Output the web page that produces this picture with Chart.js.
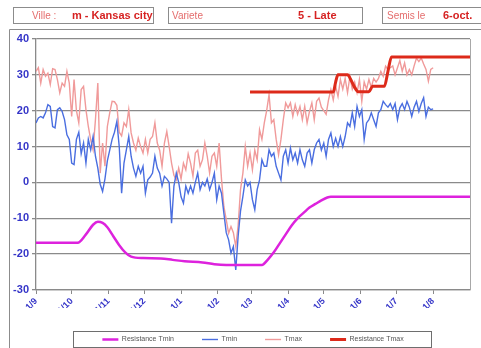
<!DOCTYPE html>
<html>
<head>
<meta charset="utf-8">
<script src="https://cdn.jsdelivr.net/npm/chart.js@4.4.1/dist/chart.umd.min.js"></script>
<style>
    html, body { margin: 0; padding: 0; background: #ffffff; }
    #graficoTemp { display: block; }
</style>
</head>
<body>
<canvas id="graficoTemp" width="481" height="348"></canvas>
<script>

const police = '"Liberation Sans", Arial, sans-serif';

// axe des dates : jour 0 = 1er septembre
const moisLabels = ['1/9', '1/10', '1/11', '1/12', '1/1', '1/2', '1/3', '1/4', '1/5', '1/6', '1/7', '1/8'];
const moisJours = [0, 30, 61, 91, 122, 153, 181, 212, 242, 273, 303, 334];
const finAxe = 365;

// releves tous les 2 jours depuis le 1/9
const pasJours = 2;

const tmin = [
    16.6, 18, 18.4, 18, 19.4, 21.7, 21.2, 15.6, 15.2, 20.3, 20.8, 19.8, 17.5, 13.3, 12, 5.4,
    5, 12, 14, 8, 11, 5.4, 12, 9.1, 12.8, 7.3, 4, -0.5, -2.5, 1, 6, 9,
    12, 14, 17, 10, -3, 5.4, 9.1, 12.8, 7.3, 4, 1.7, 4.5, 2.6, 4.5, -3, 0.7,
    1.5, 2.6, 7.3, 4, 2.6, -1, 1.7, 1, 0, -11.4, -1, 2.6, 0,
    -4, -5.8, -1, -3, -1, -3, 0, 2.6, -2, 0, -1, 1, -2, 0, 2.6, -4.8,
    -1, -3, -8.6, -14, -16, -19.7, -17.9, -24.4, -15, -8, -3.9, 0.7, -1, 0,
    -4.8, -7.6, -2, 0.7, 6.3, 4.5, 4.5, 9.1, 7.3, 8.2, 4.5, 2.6, 0.7, 7.3, 9.1, 5.4,
    9.6, 6.3, 8.2, 5.4, 9.1, 6.3, 4.5, 8.2, 9.1, 5.4, 9.1, 11, 12,
    9, 11, 7.3, 12, 13.8, 10, 12.3, 10, 12.8, 10, 12.8, 16.6, 15.6, 19.4, 15.6, 21.2,
    18.4, 20.3, 12, 16.6, 17.5, 19.4, 17.5, 15.6, 19.4, 20.3, 22.6, 21.7, 21,
    22, 20.3, 22, 17.5, 20.8, 22, 20.3, 22.6, 21, 18.4, 21, 22.6, 19.8, 22, 23.6, 18.4,
    21, 20.3, 20.5
];

const tmax = [
    31, 32, 27.7, 31.5, 29.6, 30.5, 27.3, 31.7, 31.5, 28.7, 25, 27.7, 26.8, 31, 27.7, 18.4,
    28.7, 20, 16.6, 25.9, 26.8, 20.3, 15.6, 11.9, 9.1, 17.5, 27.7, 2.6, 11, 4.5, 15.6, 19.4,
    22.6, 22.5, 21.5, 14, 13, 16.6, 15.6, 20.3, 13.8, 11, 9, 12.4, 10, 8.2, 12, 8.2,
    12, 12.8, 16.6, 11, 9, 4.5, 11, 14.2, 10, 5.4, 2, 0.7, 4,
    1, 5.4, 3.5, 8, 5.4, 1.7, 8.2, 9, 4.5, 6.3, 11, 7.3, 2.6, 7.3, 8.2, 4.5,
    11, 1, -6.7, -10.4, -14.2, -12.3, -14, -17.9, -12, -2, 2.6, 10, 4.5, 8.2,
    3.5, 9, 6.3, 14.7, 12, 16.6, 20, 24.5, 16.6, 17.5, 12, 7.7, 12, 17.5, 22.2, 20.8,
    22.2, 18.4, 21.7, 19, 21.2, 17.5, 21.2, 16.6, 19.8, 22.2, 17.5, 22.6, 23.5,
    21, 20, 19, 23, 25.9, 23, 26.8, 24, 28.7, 26, 29, 25, 29.6, 26, 28, 25,
    28.7, 22.6, 28, 26, 28.7, 26.5, 29, 28, 29, 31, 29.6, 32.4, 31.5,
    32, 32.5, 30, 32, 34, 31, 33.3, 30, 31.5, 30, 32.5, 34.7, 33.7, 34.7, 33, 31.5,
    28.2, 31.5, 32
];

// seuils de resistance
const resTminJours = [0, 35, 42, 48, 52, 56, 60, 65, 70, 75, 80, 90, 105, 115, 125, 140, 150, 160,
    190, 195, 200, 205, 210, 215, 220, 225, 230, 235, 240, 245, 248, 365];
const resTminValeurs = [-16.8, -16.8, -14.5, -11.8, -11, -11.3, -12.5, -15, -17.5, -19.5, -20.7, -21.1, -21.2, -21.6, -22, -22.3, -22.8, -23,
    -23, -21.5, -19.5, -17, -14.5, -12, -10, -8.5, -7, -6, -5, -4.2, -4, -4];

const resTmaxJours = [180, 250, 252, 254, 262, 265, 268, 271, 280, 283, 293, 296, 299, 365];
const resTmaxValeurs = [25.2, 25.2, 28, 30, 30, 28.5, 26.5, 25.3, 25.3, 26.8, 26.8, 31, 35, 35];


function serieReguliere(valeurs) {
    return valeurs.map((v, i) => ({ x: i * pasJours, y: v }));
}

function serieJours(jours, valeurs) {
    return jours.map((j, i) => ({ x: j, y: valeurs[i] }));
}


// cadres du haut : ville, variete, date de semis
const entete = {
    id: 'entete',
    afterDraw(chart) {
        const ctx = chart.ctx;
        ctx.save();
        ctx.strokeStyle = '#8c8c8c';
        ctx.lineWidth = 1;

        ctx.beginPath();
        ctx.moveTo(9.5, 360);
        ctx.lineTo(9.5, 29.5);
        ctx.lineTo(490, 29.5);
        ctx.stroke();

        ctx.strokeRect(13.5, 7.5, 140, 16);
        ctx.strokeRect(168.5, 7.5, 194, 16);
        ctx.strokeRect(382.5, 7.5, 110, 16);

        ctx.textBaseline = 'middle';
        ctx.fillStyle = '#e46c6c';
        ctx.font = '10px ' + police;
        ctx.fillText('Ville :', 32, 16);
        ctx.fillText('Variete', 172, 16);
        ctx.fillText('Semis le', 387, 16);

        ctx.fillStyle = '#d62222';
        ctx.font = 'bold 11px ' + police;
        ctx.fillText('m - Kansas city', 72, 16);
        ctx.fillText('5 - Late', 298, 16);
        ctx.fillText('6-oct.', 443, 16);

        // bord droit de la zone de trace
        const zone = chart.chartArea;
        ctx.strokeStyle = '#a8a8a8';
        ctx.beginPath();
        ctx.moveTo(zone.right + 0.5, zone.top);
        ctx.lineTo(zone.right + 0.5, zone.bottom);
        ctx.stroke();

        // cadre de la legende
        const boites = chart.legend.legendHitBoxes;
        if (boites.length) {
            const premier = boites[0];
            const dernier = boites[boites.length - 1];
            const milieu = premier.top + premier.height / 2;
            ctx.strokeStyle = '#6e6e6e';
            ctx.strokeRect(Math.round(premier.left - 29) + 0.5, Math.round(milieu - 9) + 0.5,
                Math.round(dernier.left + dernier.width + 28 - (premier.left - 29)), 16);
        }
        ctx.restore();
    }
};


const graficoTemp = document.getElementById('graficoTemp');

const graficoParaTemp = new Chart(graficoTemp, {
    type: 'line',
    data: {
        datasets: [{
            label: 'Resistance Tmin',
            data: serieJours(resTminJours, resTminValeurs),
            borderColor: '#dd22dd',
            borderWidth: 2.5,
            cubicInterpolationMode: 'monotone',
            order: 1
        }, {
            label: 'Tmin',
            data: serieReguliere(tmin),
            borderColor: '#4a6ee0',
            borderWidth: 1.4,
            order: 2
        }, {
            label: 'Tmax',
            data: serieReguliere(tmax),
            borderColor: '#f09a9a',
            borderWidth: 1.4,
            order: 3
        }, {
            label: 'Resistance Tmax',
            data: serieJours(resTmaxJours, resTmaxValeurs),
            borderColor: '#dd2a1a',
            borderWidth: 3,
            cubicInterpolationMode: 'monotone',
            order: 0
        }]
    },
    options: {
        responsive: false,
        animation: false,
        layout: {
            padding: { left: 10, right: 11, top: 39, bottom: -5 }
        },
        elements: {
            point: { radius: 0 },
            line: { fill: false }
        },
        scales: {
            x: {
                type: 'linear',
                min: 0,
                max: finAxe,
                afterBuildTicks(scale) {
                    scale.ticks = moisJours.map(j => ({ value: j }));
                },
                afterFit(scale) {
                    scale.height = 18;
                },
                ticks: {
                    autoSkip: false,
                    minRotation: 45,
                    maxRotation: 45,
                    padding: 2,
                    color: '#3535c8',
                    font: { family: police, size: 9, weight: 'bold' },
                    callback: (valeur, i) => moisLabels[i]
                },
                grid: { drawOnChartArea: false, tickLength: 4, color: '#8a8a8a' },
                border: { color: '#8a8a8a', width: 1.3 }
            },
            y: {
                min: -30,
                max: 40,
                afterFit(scale) {
                    scale.width = 26;
                },
                ticks: {
                    stepSize: 10,
                    padding: 3,
                    color: '#3535c8',
                    font: { family: police, size: 11, weight: 'bold' }
                },
                grid: { color: '#8a8a8a', lineWidth: 1.3, tickLength: 4 },
                border: { color: '#8a8a8a', width: 1.3 }
            }
        },
        plugins: {
            legend: {
                position: 'bottom',
                fullSize: false,
                labels: {
                    usePointStyle: true,
                    pointStyle: 'line',
                    pointStyleWidth: 16,
                    padding: 28,
                    color: '#555555',
                    font: { family: police, size: 7 },
                    sort: (a, b) => a.datasetIndex - b.datasetIndex
                }
            },
            tooltip: { enabled: false }
        }
    },
    plugins: [entete]
});

</script>
</body>
</html>
